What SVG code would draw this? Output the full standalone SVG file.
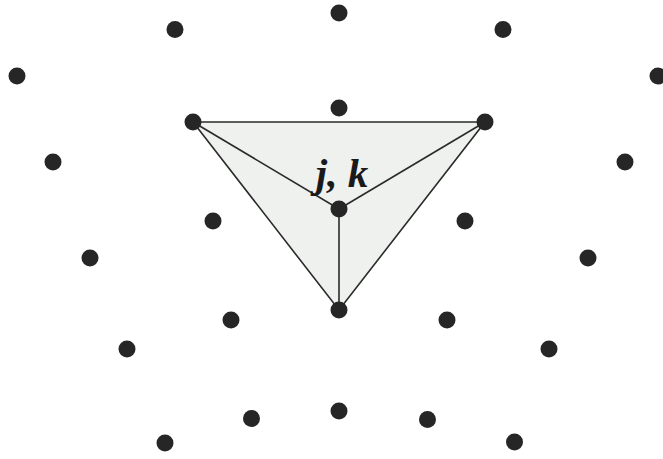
<svg xmlns="http://www.w3.org/2000/svg" width="663" height="459" viewBox="0 0 663 459">
<style>
.d{fill:#262626}
.e{stroke:#2a2a2a;stroke-width:1.6;fill:none}
.t{font-family:"Liberation Serif",serif;font-style:italic;font-weight:bold;font-size:41px;fill:#1a1a1a}
</style>
<rect width="663" height="459" fill="#fff"/>
<polygon points="193,122 485,122 339,310" fill="#eff1ef"/>
<g id="connectors">
<polyline class="e" points="193,122 485,122 339,310 193,122"/>
<line class="e" x1="339" y1="209" x2="193" y2="122"/>
<line class="e" x1="339" y1="209" x2="485" y2="122"/>
<line class="e" x1="339" y1="209" x2="339" y2="310"/>
</g>
<g id="nodes">
<circle id="n1" class="d" cx="339" cy="13" r="8.5"/>
<circle id="n2" class="d" cx="175" cy="29.5" r="8.5"/>
<circle id="n3" class="d" cx="503" cy="29.5" r="8.5"/>
<circle id="n4" class="d" cx="17" cy="76" r="8.5"/>
<circle id="n5" class="d" cx="658" cy="76" r="8.5"/>
<circle id="n6" class="d" cx="339" cy="108" r="8.5"/>
<circle id="n7" class="d" cx="193" cy="122" r="8.5"/>
<circle id="n8" class="d" cx="485" cy="122" r="8.5"/>
<circle id="n9" class="d" cx="53" cy="162" r="8.5"/>
<circle id="n10" class="d" cx="625" cy="162" r="8.5"/>
<circle id="n11" class="d" cx="339" cy="209" r="8.5"/>
<circle id="n12" class="d" cx="213" cy="221" r="8.5"/>
<circle id="n13" class="d" cx="465" cy="221" r="8.5"/>
<circle id="n14" class="d" cx="90" cy="258" r="8.5"/>
<circle id="n15" class="d" cx="588" cy="258" r="8.5"/>
<circle id="n16" class="d" cx="339" cy="310" r="8.5"/>
<circle id="n17" class="d" cx="231" cy="320" r="8.5"/>
<circle id="n18" class="d" cx="447" cy="320" r="8.5"/>
<circle id="n19" class="d" cx="127" cy="349" r="8.5"/>
<circle id="n20" class="d" cx="549" cy="349" r="8.5"/>
<circle id="n21" class="d" cx="339" cy="411" r="8.5"/>
<circle id="n22" class="d" cx="251.5" cy="418.5" r="8.5"/>
<circle id="n23" class="d" cx="427.5" cy="419.5" r="8.5"/>
<circle id="n24" class="d" cx="165" cy="443" r="8.5"/>
<circle id="n25" class="d" cx="514.5" cy="442" r="8.5"/>
</g>
<text class="t" x="342" y="187" text-anchor="middle">j, k</text>
</svg>
